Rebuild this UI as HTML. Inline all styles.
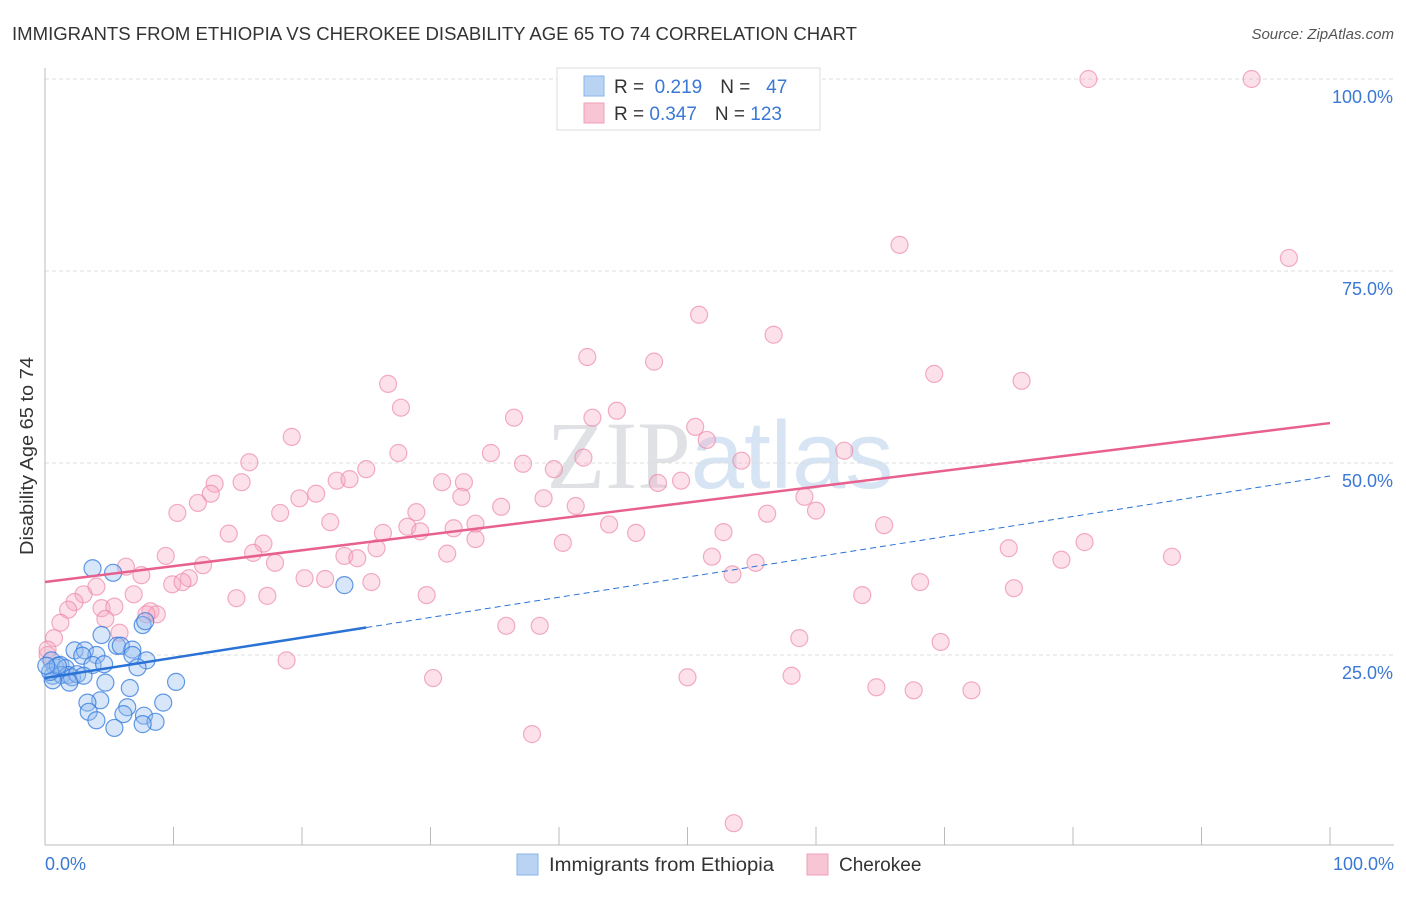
<!DOCTYPE html>
<html><head><meta charset="utf-8"><style>
body{margin:0;background:#fff;font-family:"Liberation Sans",sans-serif}
svg text{font-family:"Liberation Sans",sans-serif}
</style></head><body>
<svg id="chart" width="1406" height="892">
<text x="12" y="40" font-size="18" fill="#333" textLength="845" lengthAdjust="spacingAndGlyphs">IMMIGRANTS FROM ETHIOPIA VS CHEROKEE DISABILITY AGE 65 TO 74 CORRELATION CHART</text>
<text x="1394" y="39" font-size="15" fill="#555" text-anchor="end" font-style="italic">Source: ZipAtlas.com</text>
<text x="720" y="488" font-size="96" fill="#e4e8ee" text-anchor="middle"><tspan fill="#dfe1e5" font-family="Liberation Serif">ZIP</tspan><tspan fill="#d6e4f4">atlas</tspan></text>
<g id="grid"></g>
<line x1="45" y1="68" x2="45" y2="845" stroke="#bbb"/>
<line x1="45" y1="845" x2="1394" y2="845" stroke="#bbb"/>
<text x="33" y="456" font-size="18" fill="#333" text-anchor="middle" textLength="198" lengthAdjust="spacingAndGlyphs" transform="rotate(-90 33 456)">Disability Age 65 to 74</text>
<text x="45" y="870" font-size="18" fill="#3a78d4">0.0%</text>
<text x="1394" y="870" font-size="18" fill="#3a78d4" text-anchor="end">100.0%</text>
<g id="pts"></g>
<g id="lines"></g>
<g>
<rect x="557" y="68" width="263" height="62" fill="#fff" stroke="#ddd"/>
<rect x="584" y="76" width="20" height="20" fill="#b9d3f3" stroke="#8ab4ea"/>
<rect x="584" y="103" width="20" height="20" fill="#f8c5d5" stroke="#f0a0b8"/>
<text x="614" y="93" font-size="19" fill="#333">R = <tspan fill="#3a78d4">&#160;0.219</tspan><tspan dx="18">N = </tspan><tspan fill="#3a78d4">&#160;&#160;47</tspan></text>
<text x="614" y="120" font-size="19" fill="#333">R = <tspan fill="#3a78d4">0.347</tspan><tspan dx="18">N = </tspan><tspan fill="#3a78d4">123</tspan></text>
</g>
<g>
<rect x="517" y="854" width="21" height="21" fill="#b9d3f3" stroke="#8ab4ea"/>
<text x="549" y="871" font-size="19" fill="#333" textLength="225" lengthAdjust="spacingAndGlyphs">Immigrants from Ethiopia</text>
<rect x="807" y="854" width="21" height="21" fill="#f8c5d5" stroke="#f0a0b8"/>
<text x="839" y="871" font-size="19" fill="#333">Cherokee</text>
</g>
</svg>
<script>
const yTicks=[25,50,75,100];
const yTickLabels=["25.0%","50.0%","75.0%","100.0%"];
const xTicks=[0,10,20,30,40,50,60,70,80,90,100];
const ethX=[3.7,5.3,23.3,7.6,7.8,4.4,5.6,5.9,6.8,2.3,3.1,4.0,6.8,7.9,2.9,3.7,4.6,7.2,0.5,0.8,1.2,1.6,0.6,1.3,1.8,2.1,2.5,3.0,0.6,1.9,4.7,10.2,6.6,4.3,3.3,6.4,9.2,3.4,6.1,4.0,7.7,8.6,5.4,7.6,0.4,1.0,0.1];
const ethY=[36.3,35.7,34.1,28.9,29.4,27.6,26.2,26.2,25.7,25.6,25.6,25.0,25.0,24.3,24.9,23.7,23.8,23.4,24.3,23.4,23.7,23.3,22.3,22.4,22.4,22.1,22.5,22.3,21.7,21.4,21.4,21.5,20.7,19.1,18.8,18.2,18.8,17.6,17.3,16.5,17.1,16.3,15.5,16.0,22.8,23.6,23.6];
const cheX=[81.2,93.9,66.5,96.8,50.9,56.7,42.2,47.4,69.2,76.0,26.7,27.7,36.5,42.6,44.5,50.6,51.5,19.2,27.5,34.7,62.2,15.9,37.2,41.9,54.2,39.6,15.3,25.0,22.7,23.7,30.9,32.6,47.7,49.5,13.2,12.9,21.1,19.8,32.4,38.8,59.1,11.9,10.3,18.3,28.9,35.5,41.3,60.0,56.2,22.2,33.5,43.9,65.3,14.3,26.3,28.2,29.2,31.8,46.0,52.8,17.0,25.8,33.5,40.3,80.9,75.0,9.4,16.2,23.3,24.3,31.3,51.9,79.1,87.7,17.9,12.3,55.3,6.3,7.5,53.5,11.2,20.2,21.8,9.9,10.7,25.4,68.1,4.0,75.4,3.0,2.3,6.9,14.9,17.3,29.7,63.6,1.8,4.4,5.4,8.2,8.7,7.9,4.7,1.2,5.8,35.9,38.5,0.7,58.7,69.7,0.2,0.2,18.8,30.2,50.0,58.1,64.7,67.6,72.1,37.9,53.6];
const cheY=[100,100,78.4,76.7,69.3,66.7,63.8,63.2,61.6,60.7,60.3,57.2,55.9,55.9,56.8,54.7,53.0,53.4,51.3,51.3,51.6,50.1,49.9,50.7,50.3,49.2,47.5,49.2,47.7,47.9,47.5,47.5,47.4,47.7,47.3,46.0,46.0,45.4,45.6,45.4,45.6,44.8,43.5,43.5,43.6,44.3,44.4,43.8,43.4,42.3,42.1,42.0,41.9,40.8,40.9,41.7,41.1,41.5,40.9,41.0,39.5,38.9,40.1,39.6,39.7,38.9,37.9,38.3,37.9,37.6,38.2,37.8,37.4,37.8,37.0,36.7,37.0,36.5,35.4,35.5,35.0,35.0,34.9,34.2,34.5,34.5,34.5,33.9,33.7,32.9,31.9,32.9,32.4,32.7,32.8,32.8,30.9,31.1,31.3,30.7,30.3,30.3,29.7,29.2,27.9,28.8,28.8,27.2,27.2,26.7,25.0,25.7,24.3,22.0,22.1,22.3,20.8,20.4,20.4,14.7,3.1];
const ethTrend=[22.0,48.3]; const ethSolidEnd=25;
const cheTrend=[34.5,55.2];
const NS='http://www.w3.org/2000/svg';
const sx=v=>45+v*12.85, sy=v=>847-v*7.68;
function mk(t,a,p){const e=document.createElementNS(NS,t);for(const k in a)e.setAttribute(k,a[k]);p.appendChild(e);return e;}
const grid=document.getElementById('grid');
yTicks.forEach((t,i)=>{
 const l=mk('line',{x1:45,x2:1394,y1:sy(t),y2:sy(t),stroke:'#ddd','stroke-dasharray':'4,3'},grid);
 
 
 const tx=mk('text',{x:1393,y:sy(t)+24,'font-size':18,fill:'#3a78d4','text-anchor':'end'},grid);
 tx.textContent=yTickLabels[i];
 
 
});
xTicks.forEach(t=>{
 const l=mk('line',{x1:sx(t),x2:sx(t),y1:827,y2:845,stroke:'#bbb'},grid);
 
 
});
const pts=document.getElementById('pts');
cheX.forEach((x,i)=>{
 const c=mk('circle',{cx:sx(x),cy:sy(cheY[i]),r:8.5,fill:'rgba(246,170,195,0.35)',stroke:'rgba(236,130,165,0.65)','stroke-width':1.2},pts);
 
 
});
ethX.forEach((x,i)=>{
 const c=mk('circle',{cx:sx(x),cy:sy(ethY[i]),r:8.5,fill:'rgba(150,190,240,0.38)',stroke:'rgba(50,120,220,0.75)','stroke-width':1.2},pts);
 
 
});
const lines=document.getElementById('lines');
const ey=x=>ethTrend[0]+(ethTrend[1]-ethTrend[0])*x/100;
let l1=mk('line',{x1:sx(0),y1:sy(ey(0)),x2:sx(ethSolidEnd),y2:sy(ey(ethSolidEnd)),stroke:'#2a72d6','stroke-width':2.5},lines);


let l2=mk('line',{x1:sx(ethSolidEnd),y1:sy(ey(ethSolidEnd)),x2:sx(100),y2:sy(ey(100)),stroke:'#2a72d6','stroke-width':1,'stroke-dasharray':'6,4'},lines);


let l3=mk('line',{x1:sx(0),y1:sy(cheTrend[0]),x2:sx(100),y2:sy(cheTrend[1]),stroke:'#e8608e','stroke-width':2.5},lines);


</script>
</body></html>
